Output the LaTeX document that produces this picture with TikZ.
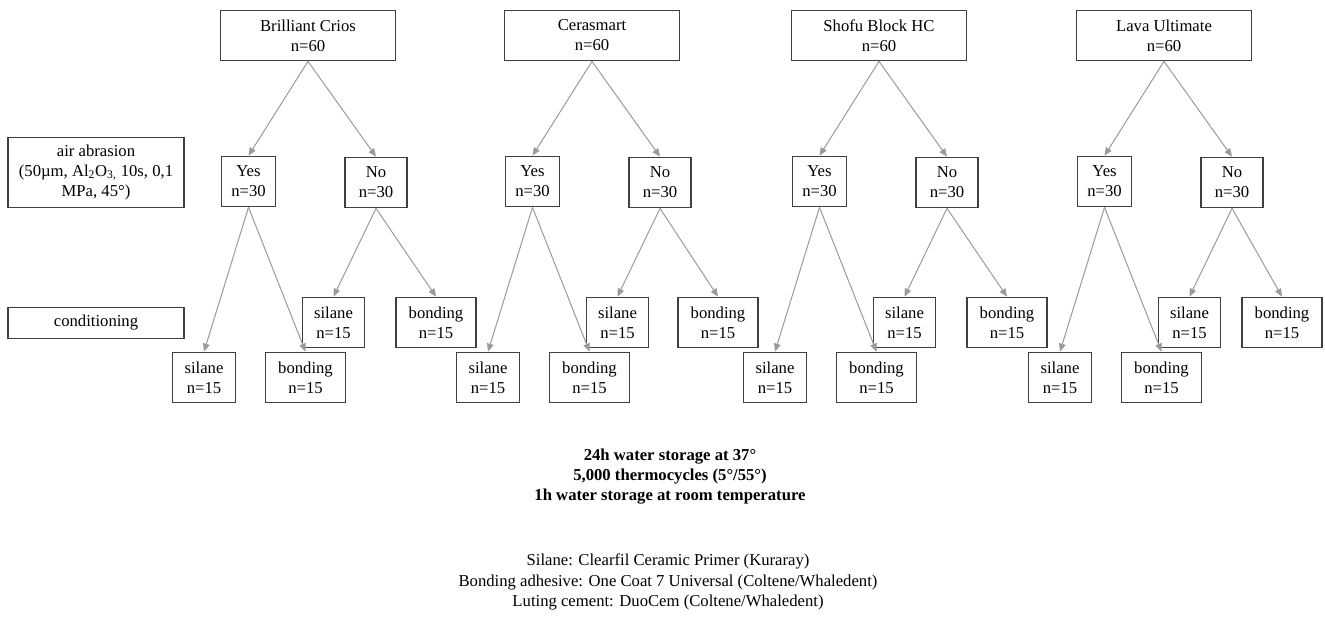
\documentclass[tikz,border=0pt]{standalone}
\usepackage{fontspec}
\setmainfont{Liberation Serif}
\usetikzlibrary{arrows.meta}
\definecolor{boxline}{HTML}{404040}
\definecolor{arrowgray}{HTML}{9A9A9A}
\tikzset{
  box/.style={draw=boxline, line width=0.8pt, align=center, inner sep=2pt, minimum height=38pt},
  topbox/.style={box, minimum width=131pt},
  yesbox/.style={box, minimum width=41pt},
  nobox/.style={box, minimum width=46.5pt},
  silbox/.style={box, minimum width=47pt},
  bondbox/.style={box, minimum width=60pt},
  sidebox/.style={box, minimum width=132pt},
  link/.style={draw=arrowgray, line width=0.75pt, -{Triangle[length=6pt,width=5pt]}}
}
\begin{document}
\begin{tikzpicture}[x=0.75pt, y=-0.75pt, every node/.style={font=\fontsize{12.5}{15}\selectfont}]
  \useasboundingbox (0,0) rectangle (1325,619);
  % row labels
  \node[sidebox, minimum height=53pt] (abrasion) at (96,172.5) {air abrasion\\(50µm, Al\textsubscript{2}O\textsubscript{3,} 10s, 0,1\\MPa, 45°)};
  \node[sidebox, minimum height=23pt] (cond) at (96,323) {conditioning};
  % one tree per material
  \foreach \g/\mat/\dx/\nbx in {0/Brilliant Crios/0/436, 1/Cerasmart/284/718, 2/Shofu Block HC/571/1007, 3/Lava Ultimate/856/1282}{
    \node[topbox] (top\g) at (308+\dx,35.5) {\mat\\n=60};
    \node[yesbox] (yes\g) at (248.5+\dx,181.5) {Yes\\n=30};
    \node[nobox] (no\g) at (376+\dx,182.5) {No\\n=30};
    \node[silbox] (ys\g) at (204+\dx,377.5) {silane\\n=15};
    \node[bondbox] (yb\g) at (305.5+\dx,377.5) {bonding\\n=15};
    \node[silbox] (ns\g) at (333.5+\dx,322.5) {silane\\n=15};
    \node[bondbox] (nb\g) at (\nbx,322.5) {bonding\\n=15};
    \draw[link] (top\g.south) -- (yes\g.north);
    \draw[link] (top\g.south) -- (no\g.north);
    \draw[link] (yes\g.south) -- (ys\g.north);
    \draw[link] (yes\g.south) -- (yb\g.north);
    \draw[link] (no\g.south) -- (ns\g.north);
    \draw[link] (no\g.south) -- (nb\g.north);
  }
  % storage and materials
  \node[align=center, font=\fontsize{12.5}{15}\selectfont\bfseries] (storage) at (670,477) {24h water storage at 37°\\5,000 thermocycles (5°/55°)\\1h water storage at room temperature};
  \node[align=center, font=\fontsize{12.5}{15.5}\selectfont] (materials) at (668,582) {Silane: Clearfil Ceramic Primer (Kuraray)\\Bonding adhesive: One Coat 7 Universal (Coltene/Whaledent)\\Luting cement: DuoCem (Coltene/Whaledent)};
\end{tikzpicture}
\end{document}
